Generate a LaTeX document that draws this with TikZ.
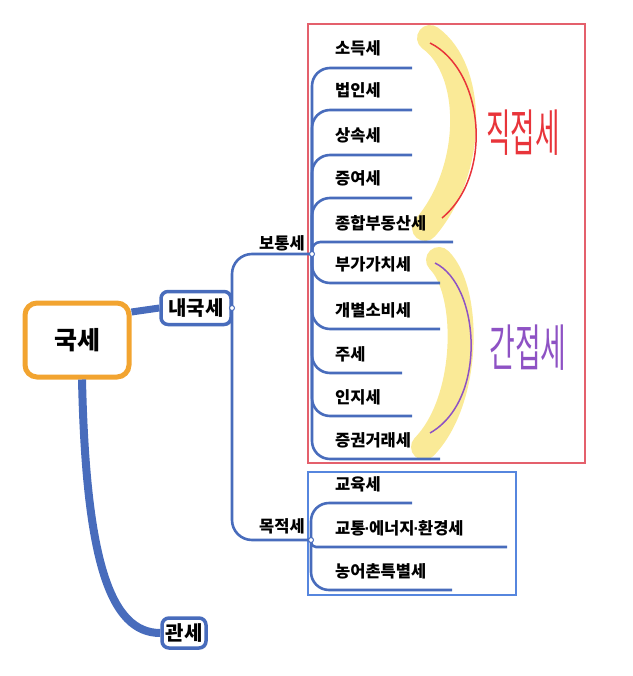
\documentclass[tikz,border=0pt]{standalone}
\usepackage{fontspec}
\setmainfont{Noto Sans CJK KR}
\newfontfamily\latinfont{Liberation Sans}
\usetikzlibrary{shadows}
\definecolor{mmblue}{RGB}{72,108,188}
\definecolor{mmorange}{RGB}{242,164,48}
\definecolor{hilite}{RGB}{250,232,140}
\definecolor{hred}{RGB}{232,52,58}
\definecolor{hpurple}{RGB}{142,82,196}
\definecolor{redbox}{RGB}{228,96,108}
\definecolor{bluebox}{RGB}{86,134,222}
\newcommand{\mdt}{{\latinfont\bfseries\kern-1pt·\kern-1pt}}
\begin{document}
\begin{tikzpicture}[x=1pt,y=-1pt,
  topic/.style={draw=mmblue,line width=3.5pt,rounded corners=7pt,fill=white,
    font=\fontsize{20}{20}\selectfont\bfseries,inner sep=0pt,
    drop shadow={shadow xshift=1.5pt,shadow yshift=-1.5pt,opacity=0.25}},
  item/.style={anchor=base west,inner sep=0pt,font=\fontsize{16.5}{16.5}\selectfont\bfseries},
  branch/.style={draw=mmblue,line width=2.6pt},
  dot/.style={circle,draw=mmblue,fill=white,line width=1pt,inner sep=0pt,minimum size=5pt},
  hand/.style={font=\fontsize{28}{28}\selectfont}]
\useasboundingbox (0,0) rectangle (632,676);
% highlighter and brackets
\draw[hilite,line width=26pt,line cap=round,opacity=0.9](430,38) .. controls (475,70) and (475,170) .. (425,228);
\draw[hilite,line width=26pt,line cap=round,opacity=0.9](439,260) .. controls (470,290) and (470,400) .. (424,447);
% group boxes
\draw[redbox,line width=1.4pt](308,24) rectangle (585,463);
\draw[bluebox,line width=1.4pt](308,472) rectangle (516,595);
% main topics
\node[topic,draw=mmorange,line width=5pt,rounded corners=12pt,minimum width=104pt,minimum height=74pt,
  font=\fontsize{25}{25}\selectfont\bfseries](guk) at (77,340){국세};
\node[topic,minimum width=70pt,minimum height=33pt](naeguk) at (196,308){내국세};
\node[topic,minimum width=44pt,minimum height=30pt](gwan) at (184,633){관세};
\draw[mmblue,line width=7pt]([yshift=28pt]guk.east)--(naeguk.west);
\draw[mmblue,line width=8pt]([xshift=5pt]guk.south) .. controls (86,560) and (110,633) .. (gwan.west);
% sub topics
\coordinate (ndot) at (232,308);
\coordinate (bdot) at (312,254);
\coordinate (mdot) at (311,540);
\draw[branch,rounded corners=20pt](ndot) |- (bdot);
\draw[branch,rounded corners=20pt](ndot) |- (mdot);
\node[item,anchor=base](botong) at (282,249){보통세};
\node[item,anchor=base](mokjeok) at (282,532){목적세};
\foreach \nm/\txt/\ly/\ex in {sodeuk/소득세/68/412,beobin/법인세/110/412,sangsok/상속세/155/412,
  jeungyeo/증여세/198/412,jonghap/종합부동산세/242/453,bugachi/부가가치세/283/440,
  gaebyeol/개별소비세/329/440,ju/주세/373/402,inji/인지세/416/412,jeunggwon/증권거래세/459/440}{
  \pgfmathsetmacro{\rr}{min(18,abs(\ly-254)*0.7)}
  \node[item](\nm) at (335,\ly-13){\txt};
  \coordinate (\nm-e) at (\ex,\ly);
  \draw[branch,rounded corners=\rr pt](bdot) |- (\nm-e);
}
\foreach \nm/\txt/\ly/\ex in {gyoyuk/교육세/503/412,gyotong/교통\mdt 에너지\mdt 환경세/547/507,nongeo/농어촌특별세/590/452}{
  \pgfmathsetmacro{\rr}{min(18,abs(\ly-540)*0.7)}
  \node[item](\nm) at (335,\ly-13){\txt};
  \coordinate (\nm-e) at (\ex,\ly);
  \draw[branch,rounded corners=\rr pt](mdot) |- (\nm-e);
}
\node[dot] at (ndot){};
\node[dot] at (bdot){};
\node[dot] at (mdot){};
% handwriting
\draw[hred,line width=1.5pt](430,43) .. controls (484,70) and (494,175) .. (442,218);
\draw[hpurple,line width=1.5pt](435,263) .. controls (480,285) and (488,400) .. (430,433);
\node[hand,text=hred](jikjeop) at (523,133){\scalebox{0.95}[1.8]{직접세}};
\node[hand,text=hpurple](ganjeop) at (528,348){\scalebox{1}[1.8]{간접세}};
\end{tikzpicture}
\end{document}
